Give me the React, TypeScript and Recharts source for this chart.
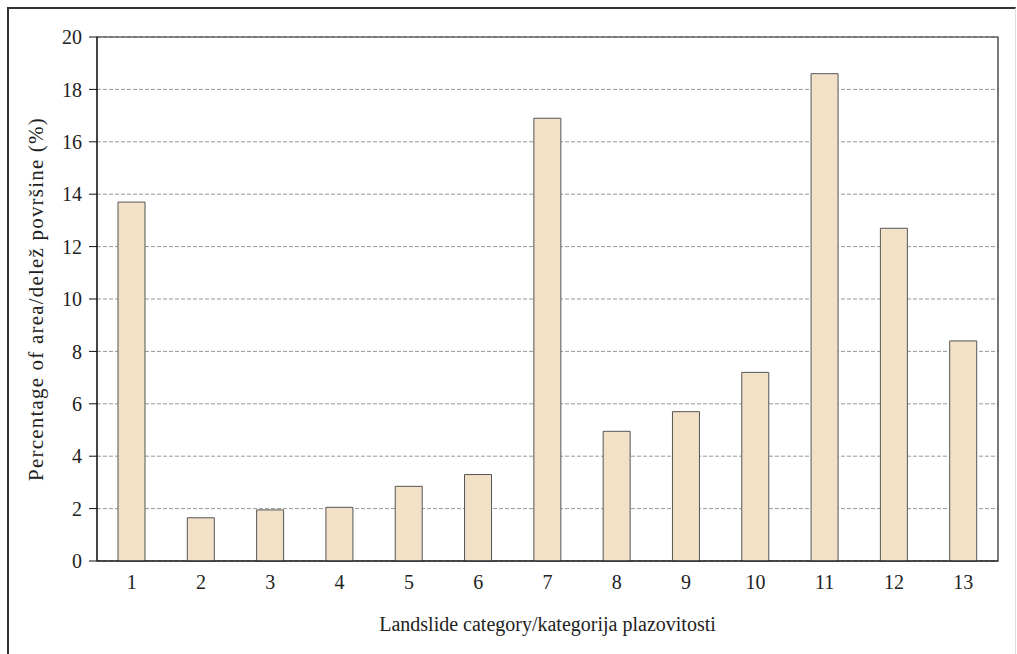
import { Bar, BarChart, CartesianGrid, ReferenceArea, XAxis, YAxis } from "recharts"

const categories = ["1", "2", "3", "4", "5", "6", "7", "8", "9", "10", "11", "12", "13"]
const shares = [13.7, 1.65, 1.95, 2.05, 2.85, 3.3, 16.9, 4.95, 5.7, 7.2, 18.6, 12.7, 8.4]
const yTicks = [0, 2, 4, 6, 8, 10, 12, 14, 16, 18, 20]

const FONT = "'Liberation Serif', 'DejaVu Serif', serif"

export default function App() {
  const data = categories.map((c, i) => ({ category: c, value: shares[i] }))

  return (
    <div style={{ position: "fixed", left: 0, top: 0, width: 1017, height: 654, background: "#fff" }}>
      <div
        style={{
          position: "absolute",
          left: 7,
          top: 7,
          width: 1009,
          height: 660,
          borderLeft: "2px solid #333",
          borderTop: "2px solid #333",
          borderRight: "1px solid #ddd",
          boxSizing: "border-box",
        }}
      />
      <div style={{ position: "absolute", left: 0, top: 0 }}>
        <BarChart
          width={1017}
          height={654}
          data={data}
          margin={{ top: 37, right: 19, left: 0, bottom: 23 }}
          style={{ fontFamily: FONT }}
        >
          <CartesianGrid vertical={false} stroke="#999" strokeDasharray="4 2" />
          <XAxis
            dataKey="category"
            height={70}
            tickLine={false}
            axisLine={{ stroke: "#111" }}
            tick={{ fill: "#222", fontSize: 20 }}
            tickMargin={8}
            label={{
              value: "Landslide category/kategorija plazovitosti",
              position: "insideBottom",
              offset: 0,
              fill: "#222",
              fontSize: 20,
            }}
          />
          <YAxis
            width={97}
            domain={[0, 20]}
            ticks={yTicks}
            interval={0}
            tickSize={8}
            tickMargin={7}
            tickLine={{ stroke: "#111" }}
            axisLine={{ stroke: "#111" }}
            tick={{ fill: "#222", fontSize: 20 }}
            label={{
              value: "Percentage of area/delež površine (%)",
              angle: -90,
              position: "insideLeft",
              offset: 36,
              style: { textAnchor: "middle", letterSpacing: 1.2 },
              fill: "#222",
              fontSize: 21,
            }}
          />
          <ReferenceArea y1={0} y2={20} fill="none" stroke="#222" strokeWidth={1.2} ifOverflow="visible" />
          <Bar dataKey="value" fill="#f2e1c7" stroke="#555" strokeWidth={1} barSize={27} isAnimationActive={false} />
        </BarChart>
      </div>
    </div>
  )
}
